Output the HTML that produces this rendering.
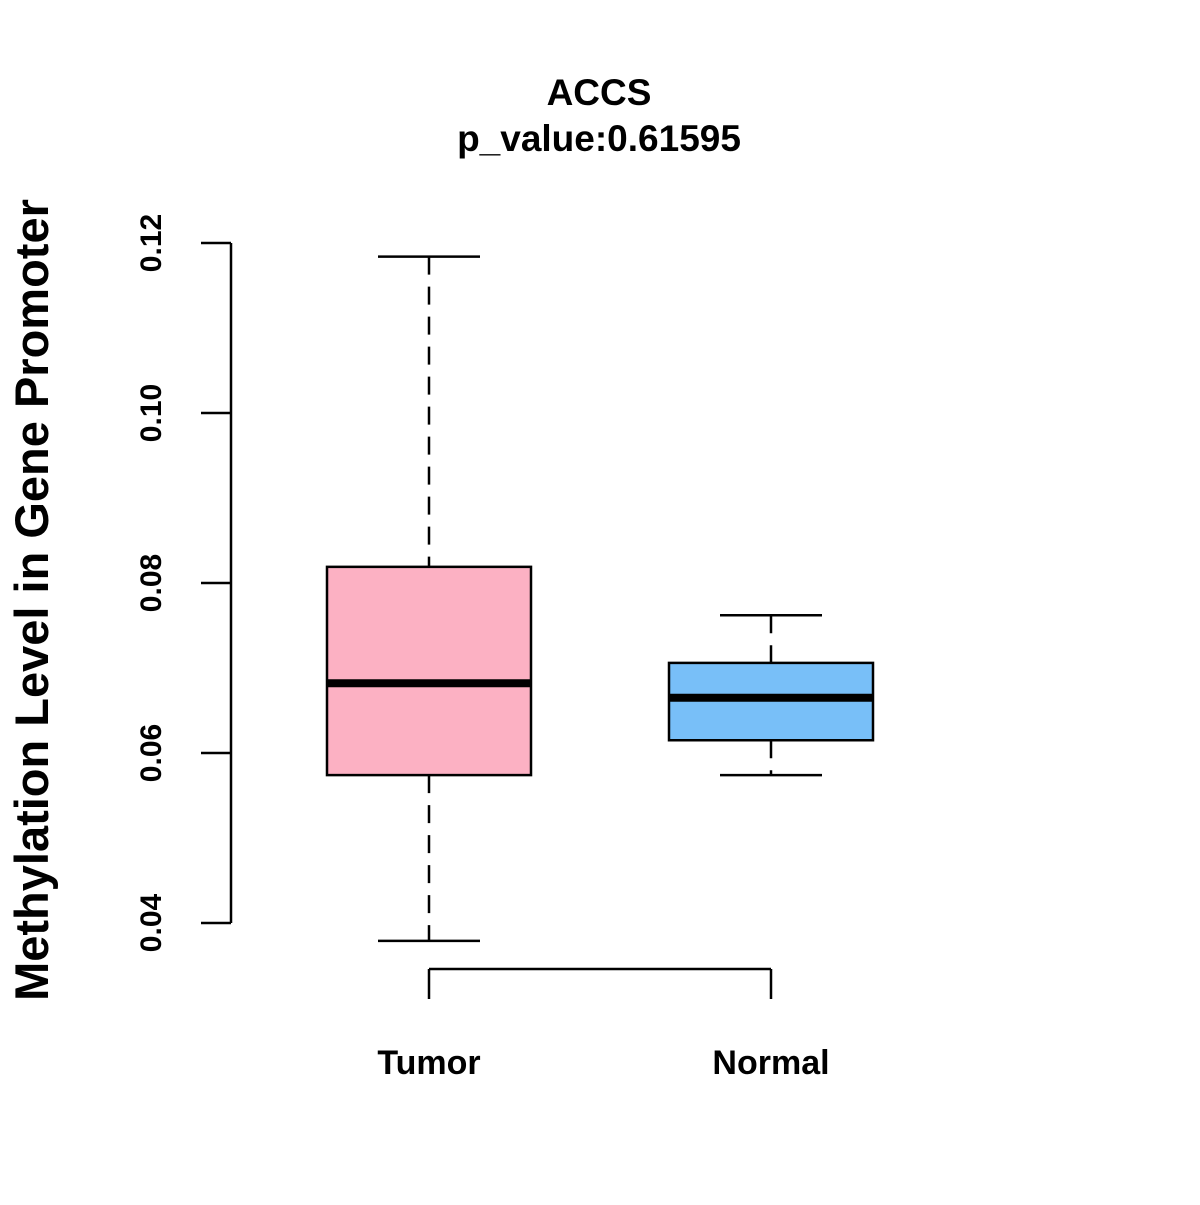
<!DOCTYPE html>
<html><head><meta charset="utf-8"><style>
body{margin:0;background:#fff}
svg text{font-family:"Liberation Sans",Arial,sans-serif;font-weight:bold;fill:#000}
</style></head><body>
<svg width="1200" height="1200" viewBox="0 0 1200 1200" id="chart">
<rect width="1200" height="1200" fill="#fff"/>
<text x="599" y="105" font-size="37" text-anchor="middle">ACCS</text>
<text x="599" y="151" font-size="37" text-anchor="middle">p_value:0.61595</text>
<text transform="translate(48,600) rotate(-90)" font-size="47" text-anchor="middle">Methylation Level in Gene Promoter</text>
<g id="axes"></g>
<g id="boxes"></g>
</svg>
<script>
const categories = ["Tumor", "Normal"];
const whiskerLow = [0.0379, 0.0574];
const q1 = [0.0574, 0.0615];
const medians = [0.0682, 0.0665];
const q3 = [0.0819, 0.0706];
const whiskerHigh = [0.1184, 0.0762];
const colors = ["#fcb1c3", "#78bff8"];
const yTicks = [0.04, 0.06, 0.08, 0.10, 0.12];
const yTickLabels = ["0.04", "0.06", "0.08", "0.10", "0.12"];

const NS = "http://www.w3.org/2000/svg";
const y = v => 923 - (v - 0.04) * 8500;
const x = i => 429 + i * 342;
function mk(tag, attrs, parent) {
  const e = document.createElementNS(NS, tag);
  for (const k in attrs) e.setAttribute(k, attrs[k]);
  parent.appendChild(e);
  return e;
}
const axes = document.getElementById("axes");
const boxes = document.getElementById("boxes");
const S = {stroke: "#000", "stroke-width": 2.5, fill: "none"};

let yl = mk("line", Object.assign({x1: 231, x2: 231, y1: y(yTicks[0]), y2: y(yTicks[yTicks.length - 1])}, S), axes);


yTicks.forEach((t, i) => {
  let tk = mk("line", Object.assign({x1: 201, x2: 231, y1: y(t), y2: y(t)}, S), axes);
  
  
  let tx = mk("text", {transform: `translate(161,${y(t)}) rotate(-90)`, "font-size": 30, "text-anchor": "middle"}, axes);
  tx.textContent = yTickLabels[i];
  
  
});
let xl = mk("line", Object.assign({x1: x(0), x2: x(categories.length - 1), y1: 969, y2: 969}, S), axes);


categories.forEach((c, i) => {
  let tk = mk("line", Object.assign({x1: x(i), x2: x(i), y1: 969, y2: 999}, S), axes);
  
  
  let tx = mk("text", {x: x(i), y: 1074, "font-size": 34, "text-anchor": "middle"}, axes);
  tx.textContent = c;
  
  

  const g = mk("g", {}, boxes);
  
  
  const dash = {stroke: "#000", "stroke-width": 2.5, "stroke-dasharray": "18,12"};
  mk("line", Object.assign({x1: x(i), x2: x(i), y1: y(whiskerHigh[i]), y2: y(q3[i])}, dash), g);
  mk("line", Object.assign({x1: x(i), x2: x(i), y1: y(q1[i]), y2: y(whiskerLow[i])}, dash), g);
  mk("line", Object.assign({x1: x(i) - 51, x2: x(i) + 51, y1: y(whiskerHigh[i]), y2: y(whiskerHigh[i])}, S), g);
  mk("line", Object.assign({x1: x(i) - 51, x2: x(i) + 51, y1: y(whiskerLow[i]), y2: y(whiskerLow[i])}, S), g);
  mk("rect", {x: x(i) - 102, y: y(q3[i]), width: 204, height: y(q1[i]) - y(q3[i]), fill: colors[i], stroke: "#000", "stroke-width": 2.5}, g);
  mk("line", {x1: x(i) - 102, x2: x(i) + 102, y1: y(medians[i]), y2: y(medians[i]), stroke: "#000", "stroke-width": 8}, g);
});
</script>
</body></html>
